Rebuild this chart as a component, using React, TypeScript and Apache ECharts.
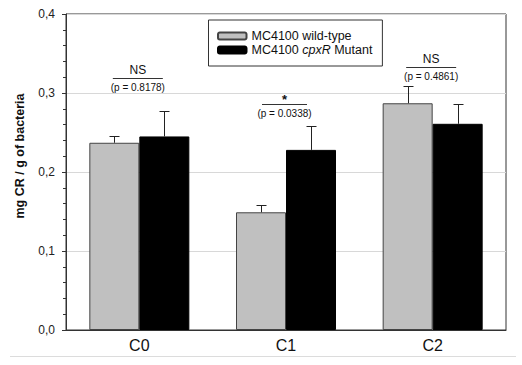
import React, { useEffect, useRef } from 'react';
import * as echarts from 'echarts';

const categories = ['C0', 'C1', 'C2'];
const seriesNames = ['MC4100 wild-type', 'MC4100 cpxR Mutant'];
const wildType = [0.237, 0.149, 0.287];
const wildTypeErr = [0.009, 0.0095, 0.0215];
const mutant = [0.245, 0.228, 0.261];
const mutantErr = [0.032, 0.03, 0.0255];
const sigLabels = ['NS', '*', 'NS'];
const pValues = ['0.8178', '0.0338', '0.4861'];
const sigLevels = [0.3186, 0.2857, 0.3333];
const yTicks = [0, 0.1, 0.2, 0.3, 0.4];

const FONT = "'Liberation Sans', Arial, sans-serif";
const BAR_W = 50;

function errorSeries(name: string, values: number[], errs: number[], offset: number) {
  return {
    type: 'custom',
    name: name + ' err',
    z: 5,
    silent: true,
    data: values.map((v, i) => [i, v, errs[i]]),
    renderItem: (params: any, api: any) => {
      const x = api.value(0);
      const v = api.value(1);
      const e = api.value(2);
      const base = api.coord([x, v]);
      const top = api.coord([x, v + e]);
      const cx = Math.round(base[0] + offset) + 0.5;
      const ty = Math.round(top[1]) + 0.5;
      return {
        type: 'group',
        children: [
          { type: 'line', shape: { x1: cx, y1: base[1], x2: cx, y2: ty }, style: { stroke: '#222', lineWidth: 1 } },
          { type: 'line', shape: { x1: cx - 5, y1: ty, x2: cx + 5, y2: ty }, style: { stroke: '#222', lineWidth: 1 } },
        ],
      };
    },
  };
}

export default function App() {
  const ref = useRef<HTMLDivElement>(null);
  useEffect(() => {
    document.body.style.margin = '0';
    const chart = echarts.init(ref.current!, undefined, { renderer: 'svg' });
    const option: any = {
      animation: false,
      backgroundColor: '#fff',
      textStyle: { fontFamily: FONT },
      grid: { left: 66, right: 16, top: 14, bottom: 35, show: true, borderColor: '#333', borderWidth: 1, backgroundColor: 'transparent' },
      legend: {
        data: seriesNames,
        orient: 'vertical',
        left: 208.5,
        top: 20,
        padding: [9, 10, 9, 8.5],
        borderColor: '#333',
        borderWidth: 1,
        itemWidth: 28.5,
        itemHeight: 7,
        itemGap: 0,
        selectedMode: false,
        textStyle: {
          fontFamily: FONT,
          fontSize: 12.5,
          color: '#111',
          lineHeight: 14,
          rich: {
            n: { fontFamily: FONT, fontSize: 12.5, color: '#111', lineHeight: 14 },
            i: { fontFamily: FONT, fontSize: 12.5, color: '#111', fontStyle: 'italic', lineHeight: 14 },
          },
        },
        formatter: (name: string) => {
          if (name === seriesNames[1]) return '{n|MC4100 }{i|cpxR}{n| Mutant}';
          return '{n|' + name + '}';
        },
      },
      xAxis: {
        type: 'category',
        data: categories,
        axisLine: { lineStyle: { color: '#333', width: 1 } },
        axisTick: { show: false },
        axisLabel: { fontFamily: FONT, fontSize: 16, color: '#111', margin: 7 },
        splitLine: { show: false },
      },
      yAxis: {
        type: 'value',
        min: yTicks[0],
        max: yTicks[yTicks.length - 1],
        interval: 0.1,
        axisLine: { show: true, lineStyle: { color: '#333', width: 1 } },
        axisTick: { show: true, length: 4, lineStyle: { color: '#333' } },
        minorTick: { show: true, splitNumber: 5, length: 3, lineStyle: { color: '#333' } },
        axisLabel: {
          fontFamily: FONT,
          fontSize: 12,
          color: '#222',
          margin: 11,
          formatter: (v: number) => v.toFixed(1).replace('.', ','),
        },
        splitLine: { show: true, lineStyle: { color: '#d8d8d8', width: 1 } },
      },
      graphic: [
        {
          type: 'text',
          x: 20,
          y: 156,
          rotation: Math.PI / 2,
          style: { text: 'mg CR / g of bacteria', font: `bold 12.5px ${FONT}`, fill: '#111', align: 'center', verticalAlign: 'middle' },
        },
        {
          type: 'line',
          shape: { x1: 10, y1: 356.5, x2: 516, y2: 356.5 },
          style: { stroke: '#dcdcdc', lineWidth: 1 },
        },
      ],
      series: [
        {
          type: 'bar',
          name: seriesNames[0],
          data: wildType,
          barWidth: BAR_W,
          barGap: '0%',
          itemStyle: { color: '#c0c0c0', borderColor: '#444', borderWidth: 1 },
        },
        {
          type: 'bar',
          name: seriesNames[1],
          data: mutant,
          barWidth: BAR_W,
          barGap: '0%',
          itemStyle: { color: '#000', borderColor: '#000', borderWidth: 1 },
        },
        errorSeries(seriesNames[0], wildType, wildTypeErr, -BAR_W / 2),
        errorSeries(seriesNames[1], mutant, mutantErr, BAR_W / 2),
        {
          type: 'custom',
          name: 'significance',
          silent: true,
          z: 6,
          data: sigLevels.map((l, i) => [i, l]),
          renderItem: (params: any, api: any) => {
            const i = params.dataIndex;
            const p = api.coord([api.value(0), api.value(1)]);
            const half = sigLabels[i] === '*' ? 22.5 : 25;
            const cx = p[0] - 1.5;
            const ly = Math.round(p[1]) + 0.5;
            const isStar = sigLabels[i] === '*';
            return {
              type: 'group',
              children: [
                { type: 'line', shape: { x1: cx - half, y1: ly, x2: cx + half, y2: ly }, style: { stroke: '#333', lineWidth: 1 } },
                {
                  type: 'text',
                  x: cx,
                  y: isStar ? ly - 5 : ly - 8.8,
                  style: {
                    text: sigLabels[i],
                    font: isStar ? `bold 13px ${FONT}` : `12px ${FONT}`,
                    fill: '#111',
                    align: 'center',
                    verticalAlign: 'middle',
                  },
                },
                {
                  type: 'text',
                  x: cx,
                  y: ly + 8.5,
                  style: {
                    text: '(p = ' + pValues[i] + ')',
                    font: `10px ${FONT}`,
                    fill: '#111',
                    align: 'center',
                    verticalAlign: 'middle',
                  },
                },
              ],
            };
          },
        },
      ],
    };
    chart.setOption(option);
    return () => chart.dispose();
  }, []);
  return <div ref={ref} style={{ width: 522, height: 365 }} />;
}
